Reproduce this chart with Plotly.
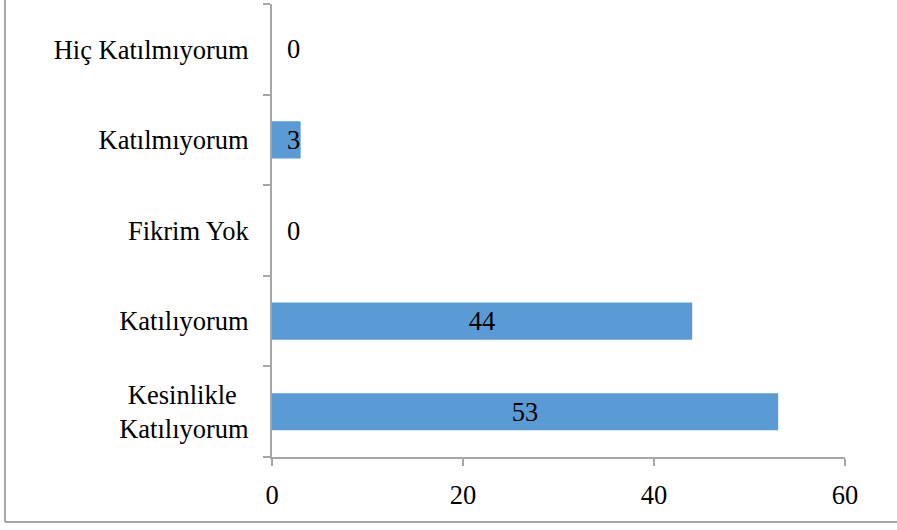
import plotly.graph_objects as go

categories = ["Kesinlikle<br>Katılıyorum", "Katılıyorum", "Fikrim Yok", "Katılmıyorum", "Hiç Katılmıyorum"]
tick_labels = ["Kesinlikle\u00a0\u2009<br>Katılıyorum", "Katılıyorum", "Fikrim Yok", "Katılmıyorum", "Hiç Katılmıyorum"]
values = [53, 44, 0, 3, 0]
x_ticks = [0, 20, 40, 60]

FONT = "Times New Roman, Liberation Serif, DejaVu Serif, serif"
AXIS_COLOR = "#A6A6A6"
FS = 26.5

positions = ["inside" if v >= 10 else "none" for v in values]

fig = go.Figure()
fig.add_trace(go.Bar(
    x=values,
    y=categories,
    orientation="h",
    marker=dict(color="#5B9BD5", line=dict(width=0)),
    text=[str(v) for v in values],
    textposition=positions,
    insidetextanchor="middle",
    textfont=dict(family=FONT, size=FS, color="black"),
    insidetextfont=dict(family=FONT, size=FS, color="black"),
    constraintext="none",
    textangle=0,
    hoverinfo="skip",
))

annotations = []
for c, v in zip(categories, values):
    if v < 10:
        annotations.append(dict(
            x=0, y=c, xref="x", yref="y", text=str(v), showarrow=False,
            xanchor="center", yanchor="middle", xshift=21,
            font=dict(family=FONT, size=FS, color="black"),
        ))

fig.update_layout(
    width=897, height=530,
    margin=dict(l=272, r=52, t=4, b=73),
    paper_bgcolor="white", plot_bgcolor="white",
    showlegend=False,
    bargap=0.59,
    font=dict(family=FONT, size=FS, color="black"),
    annotations=annotations,
    shapes=[
        dict(type="line", xref="paper", yref="paper", x0=-267/573, x1=-267/573,
             y0=-65/453, y1=1 + 4/453, line=dict(color=AXIS_COLOR, width=2)),
        dict(type="line", xref="paper", yref="paper", x0=-267/573, x1=1 + 52/573,
             y0=-65/453, y1=-65/453, line=dict(color=AXIS_COLOR, width=2)),
    ],
)

fig.update_xaxes(
    range=[0, 60], tickvals=x_ticks, ticktext=[str(t) for t in x_ticks],
    showgrid=False, zeroline=False,
    showline=True, linecolor=AXIS_COLOR, linewidth=1.5,
    ticks="outside", ticklen=7, tickcolor=AXIS_COLOR, tickwidth=1.5,
    tickfont=dict(family=FONT, size=FS, color="black"),
    ticklabelstandoff=6,
    fixedrange=True,
)
fig.update_yaxes(
    categoryorder="array", categoryarray=categories,
    tickvals=categories, ticktext=tick_labels,
    showgrid=False, zeroline=False,
    showline=True, linecolor=AXIS_COLOR, linewidth=2,
    ticks="outside", ticklen=7, tickcolor=AXIS_COLOR, tickwidth=1.5,
    tickson="boundaries",
    tickfont=dict(family=FONT, size=FS, color="black"),
    ticklabelstandoff=16,
    fixedrange=True,
)

fig.write_html("out.html", config={"displayModeBar": False},
               post_script="document.body.style.margin='0';document.body.style.overflow='hidden';")
